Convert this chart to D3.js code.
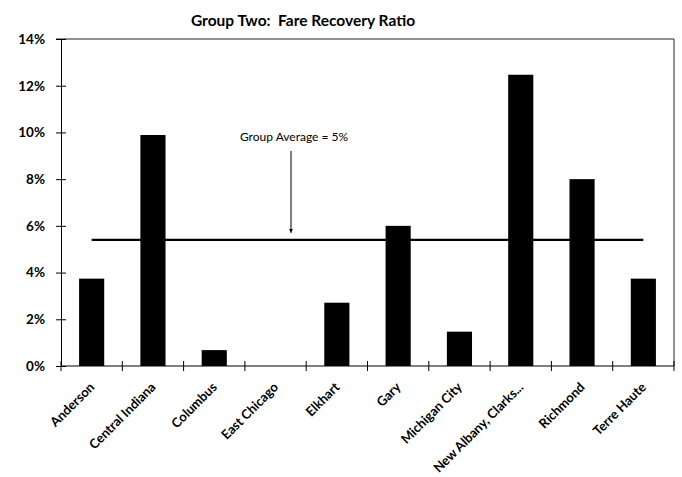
<!DOCTYPE html>
<html>
<head>
<meta charset="utf-8">
<script src="https://cdn.jsdelivr.net/npm/d3@7"></script>
<style>
	body { margin: 0; background: #fff; }
	text { font-family: Lato, "Open Sans", sans-serif; fill: #000; }
</style>
</head>
<body>
<div id="chart"></div>
<script>
// values
const categories = ["Anderson", "Central Indiana", "Columbus", "East Chicago", "Elkhart",
	"Gary", "Michigan City", "New Albany, Clarks...", "Richmond", "Terre Haute"];
const ratios = [0.0374, 0.0989, 0.0068, 0, 0.0271, 0.060, 0.0147, 0.1247, 0.080, 0.0374];
const yTicks = [0, 0.02, 0.04, 0.06, 0.08, 0.10, 0.12, 0.14];
const groupAverage = 0.054;
const averageLabel = "Group Average = 5%";
const title = "Group Two:  Fare Recovery Ratio";

const width = 682, height = 477;
const margin = { top: 39, right: 8, bottom: 111, left: 61 };

const svg = d3.select("#chart").append("svg")
	.attr("width", width)
	.attr("height", height);

const x = d3.scaleBand()
	.domain(categories)
	.range([margin.left, width - margin.right])
	.paddingInner(0.59)
	.paddingOuter(0.295);

const y = d3.scaleLinear()
	.domain([0, 0.14])
	.range([height - margin.bottom, margin.top]);

// title
svg.append("text")
	.attr("x", 303)
	.attr("y", 26)
	.attr("text-anchor", "middle")
	.style("font-size", "15.5px")
	.style("font-weight", "bold")
	.style("white-space", "pre")
	.text(title);

// plot frame (top + right)
svg.append("path")
	.attr("d", `M${margin.left - 5},${margin.top}H${width - margin.right}V${y(0)}`)
	.attr("fill", "none")
	.attr("stroke", "#222")
	.attr("stroke-width", 1);

// bars
svg.append("g").selectAll("rect")
	.data(ratios)
	.enter().append("rect")
	.attr("x", (d, i) => x(categories[i]))
	.attr("y", d => y(d))
	.attr("width", x.bandwidth())
	.attr("height", d => y(0) - y(d))
	.attr("fill", "#000");

// y axis
const yAxis = svg.append("g")
	.attr("transform", `translate(${margin.left},0)`)
	.call(d3.axisLeft(y).tickValues(yTicks).tickFormat(d3.format(".0%")).tickSize(4).tickPadding(12));
yAxis.selectAll(".tick line").attr("x1", -5).attr("x2", 5);
yAxis.select(".domain").attr("stroke", "#000");
yAxis.selectAll("text")
	.style("font-size", "13.5px")
	.style("font-weight", "bold");

// x axis: ticks sit at category boundaries
const step = x.step();
const edges = d3.range(categories.length + 1).map(i => margin.left + i * step);
const xAxis = svg.append("g");
xAxis.append("line")
	.attr("x1", margin.left).attr("x2", width - margin.right)
	.attr("y1", y(0)).attr("y2", y(0))
	.attr("stroke", "#000");
xAxis.selectAll(".edge")
	.data(edges)
	.enter().append("line")
	.attr("class", "edge")
	.attr("x1", d => d).attr("x2", d => d)
	.attr("y1", y(0) - 5).attr("y2", y(0) + 5)
	.attr("stroke", "#000");
xAxis.selectAll(".cat")
	.data(categories)
	.enter().append("text")
	.attr("class", "cat")
	.attr("transform", d => `translate(${x(d) + x.bandwidth() / 2 + 3.5},${y(0) + 22}) rotate(-45)`)
	.attr("text-anchor", "end")
	.style("font-size", "13px")
	.style("font-weight", "bold")
	.text(d => d);

// group average line
const first = categories[0], last = categories[categories.length - 1];
svg.append("line")
	.attr("x1", x(first) + x.bandwidth() / 2)
	.attr("x2", x(last) + x.bandwidth() / 2)
	.attr("y1", y(groupAverage)).attr("y2", y(groupAverage))
	.attr("stroke", "#000")
	.attr("stroke-width", 2.2);

// annotation + arrow
svg.append("defs").append("marker")
	.attr("id", "arrow")
	.attr("viewBox", "0 0 10 10")
	.attr("refX", 10).attr("refY", 5)
	.attr("markerWidth", 4).attr("markerHeight", 4)
	.attr("orient", "auto")
	.append("path")
	.attr("d", "M0,0L10,5L0,10z")
	.attr("fill", "#000");

svg.append("text")
	.attr("x", 294)
	.attr("y", 141)
	.attr("text-anchor", "middle")
	.style("font-size", "12px")
	.text(averageLabel);

svg.append("line")
	.attr("x1", 291).attr("x2", 291)
	.attr("y1", 151).attr("y2", y(groupAverage) - 7)
	.attr("stroke", "#000")
	.attr("stroke-width", 1)
	.attr("marker-end", "url(#arrow)");
</script>
</body>
</html>
